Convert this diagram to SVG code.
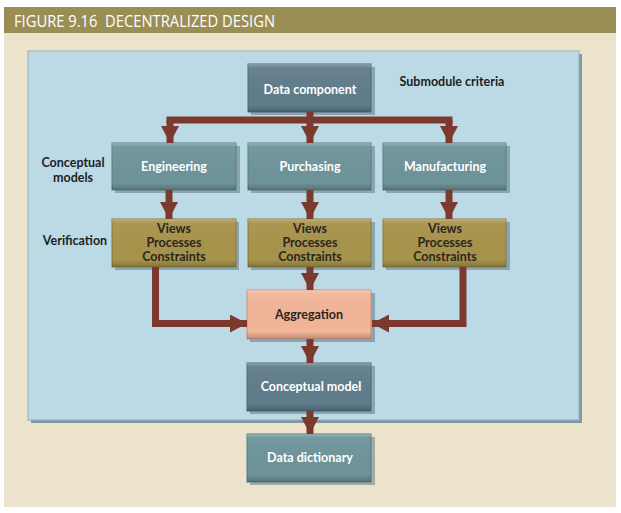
<svg xmlns="http://www.w3.org/2000/svg" width="621" height="513" viewBox="0 0 621 513">
<defs>
<style>
.t{font-family:Lato,"Open Sans","DejaVu Sans",sans-serif;font-weight:bold;font-size:12.5px;text-anchor:middle}
.w{fill:#ffffff}
.d{fill:#2a2620}
.lbl{font-family:Lato,"Open Sans","DejaVu Sans",sans-serif;font-weight:bold;font-size:12.5px;fill:#1e1e1e}
.sh{fill:#4d6570;opacity:0.45}
.slate{fill:#607d8c;stroke:#4f6976;stroke-width:1}
.teal{fill:#6e949a;stroke:#587a80;stroke-width:1}
.olive{fill:#a8934a;stroke:#8a7838;stroke-width:1}
.salmon{fill:#f2b598;stroke:#c9927a;stroke-width:1}
.hl{fill:url(#bev)}
.c{fill:none;stroke:#7c3a2f;stroke-width:7;stroke-linejoin:miter}
</style>
<linearGradient id="bev" x1="0" y1="0" x2="0" y2="1">
<stop offset="0" stop-color="#ffffff" stop-opacity="0.28"/>
<stop offset="0.08" stop-color="#ffffff" stop-opacity="0.05"/>
<stop offset="0.85" stop-color="#000000" stop-opacity="0"/>
<stop offset="1" stop-color="#000000" stop-opacity="0.22"/>
</linearGradient>
<marker id="ah" viewBox="0 0 17 18" markerWidth="17" markerHeight="18" refX="17" refY="9" orient="auto" markerUnits="userSpaceOnUse">
<path d="M0,0 L17,9 L0,18 z" fill="#7c3a2f"/>
</marker>
</defs>

<rect x="0" y="0" width="621" height="513" fill="#ffffff"/>
<rect x="4" y="33" width="612" height="474" fill="#ebe3cb"/>
<rect x="4" y="7" width="612" height="26" fill="#9b8e55"/>
<text x="14" y="27" xml:space="preserve" style="white-space:pre" font-family="'Open Sans','DejaVu Sans',sans-serif" font-size="16.5" fill="#ffffff" textLength="261" lengthAdjust="spacingAndGlyphs">FIGURE 9.16  DECENTRALIZED DESIGN</text>

<g id="panel">
<rect x="31" y="54" width="551" height="369" fill="#7f98a4"/>
<rect x="28" y="51" width="551" height="369" fill="#bcd9e6" stroke="#95adb8" stroke-width="1"/>
</g>

<g id="labels">
<text class="lbl" x="452" y="86" text-anchor="middle">Submodule criteria</text>
<text class="lbl" x="73" y="167" text-anchor="middle">Conceptual</text>
<text class="lbl" x="73" y="182" text-anchor="middle">models</text>
<text class="lbl" x="75" y="245" text-anchor="middle">Verification</text>
</g>

<g id="data-component">
<rect class="sh" x="251" y="67" width="124" height="48"/>
<rect class="slate" x="248" y="64" width="123" height="48"/>
<rect class="hl" x="248" y="64" width="123" height="48"/>
<text class="t w" x="310" y="94">Data component</text>
</g>

<g id="engineering">
<rect class="sh" x="115" y="146" width="125" height="47"/>
<rect class="teal" x="112" y="143" width="124" height="47"/>
<rect class="hl" x="112" y="143" width="124" height="47"/>
<text class="t w" x="174" y="171">Engineering</text>
</g>

<g id="purchasing">
<rect class="sh" x="251" y="146" width="124" height="47"/>
<rect class="teal" x="248" y="143" width="123" height="47"/>
<rect class="hl" x="248" y="143" width="123" height="47"/>
<text class="t w" x="310" y="171">Purchasing</text>
</g>

<g id="manufacturing">
<rect class="sh" x="386" y="146" width="124" height="47"/>
<rect class="teal" x="383" y="143" width="123" height="47"/>
<rect class="hl" x="383" y="143" width="123" height="47"/>
<text class="t w" x="445" y="171">Manufacturing</text>
</g>

<g id="verif-engineering">
<rect class="sh" x="115" y="222" width="124" height="48"/>
<rect class="olive" x="112" y="219" width="124" height="48"/>
<rect class="hl" x="112" y="219" width="124" height="48"/>
<text class="t d" x="174" y="233">Views</text>
<text class="t d" x="174" y="247">Processes</text>
<text class="t d" x="174" y="261">Constraints</text>
</g>

<g id="verif-purchasing">
<rect class="sh" x="251" y="222" width="124" height="48"/>
<rect class="olive" x="248" y="219" width="123" height="48"/>
<rect class="hl" x="248" y="219" width="123" height="48"/>
<text class="t d" x="310" y="233">Views</text>
<text class="t d" x="310" y="247">Processes</text>
<text class="t d" x="310" y="261">Constraints</text>
</g>

<g id="verif-manufacturing">
<rect class="sh" x="386" y="222" width="124" height="48"/>
<rect class="olive" x="383" y="219" width="123" height="48"/>
<rect class="hl" x="383" y="219" width="123" height="48"/>
<text class="t d" x="445" y="233">Views</text>
<text class="t d" x="445" y="247">Processes</text>
<text class="t d" x="445" y="261">Constraints</text>
</g>

<g id="aggregation">
<rect class="sh" x="250" y="293" width="125" height="49"/>
<rect class="salmon" x="247" y="290" width="124" height="49"/>
<rect class="hl" x="247" y="290" width="124" height="49"/>
<text class="t d" x="309" y="319">Aggregation</text>
</g>

<g id="conceptual-model">
<rect class="sh" x="250" y="366" width="125" height="48"/>
<rect class="slate" x="247" y="363" width="124" height="48"/>
<rect class="hl" x="247" y="363" width="124" height="48"/>
<text class="t w" x="311" y="391">Conceptual model</text>
</g>

<g id="data-dictionary">
<rect class="sh" x="250" y="437" width="125" height="48"/>
<rect class="teal" x="247" y="434" width="124" height="48"/>
<rect class="hl" x="247" y="434" width="124" height="48"/>
<text class="t w" x="310" y="462">Data dictionary</text>
</g>

<g id="connectors">
<path class="c" d="M310,112 V120"/>
<path class="c" d="M166.5,120 H452.5"/>
<path class="c" d="M170,120 V143" marker-end="url(#ah)"/>
<path class="c" d="M310,120 V143" marker-end="url(#ah)"/>
<path class="c" d="M449,120 V143" marker-end="url(#ah)"/>
<path class="c" d="M169,190 V219" marker-end="url(#ah)"/>
<path class="c" d="M310,190 V219" marker-end="url(#ah)"/>
<path class="c" d="M449,190 V219" marker-end="url(#ah)"/>
<path class="c" d="M155.5,267 V323.5 H247" marker-end="url(#ah)"/>
<path class="c" d="M310,267 V290" marker-end="url(#ah)"/>
<path class="c" d="M463,267 V323.5 H372" marker-end="url(#ah)"/>
<path class="c" d="M310,339 V363" marker-end="url(#ah)"/>
<path class="c" d="M310,411 V434" marker-end="url(#ah)"/>
</g>
</svg>
